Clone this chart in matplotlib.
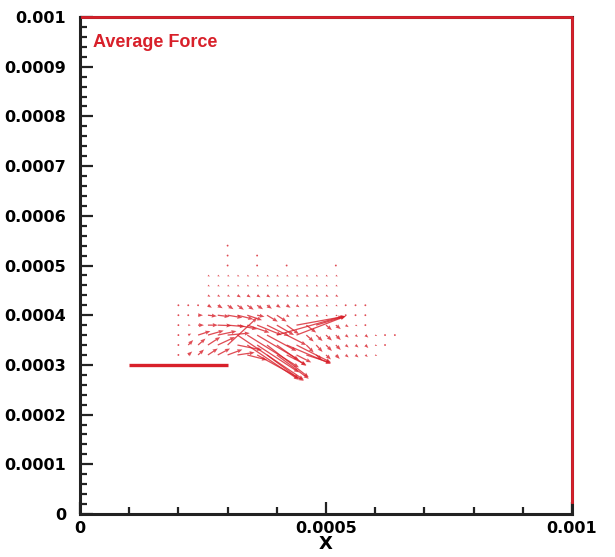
import numpy as np
import matplotlib
matplotlib.use('Agg')
from matplotlib import pyplot as plt
from matplotlib.ticker import MultipleLocator, FixedLocator

n = None
red = '#d8202a'

# grid of the vector field
x_cols = [0.0002, 0.00022, 0.00024, 0.00026, 0.00028, 0.0003, 0.00032, 0.00034,
          0.00036, 0.00038, 0.0004, 0.00042, 0.00044, 0.00046, 0.00048, 0.0005,
          0.00052, 0.00054, 0.00056, 0.00058, 0.0006, 0.00062, 0.00064]
y_rows = [0.00054, 0.00052, 0.0005, 0.00048, 0.00046, 0.00044,
          0.00042, 0.0004, 0.00038, 0.00036, 0.00034, 0.00032]

# force components, units of 1e-5 (None = no point)
u_rows = [
    [n,n,n,n,n,.3,n,n,n,n,n,n,n,n,n,n,n,n,n,n,n,n,n],
    [n,n,n,n,n,.3,n,n,.3,n,n,n,n,n,n,n,n,n,n,n,n,n,n],
    [n,n,n,n,n,.3,n,n,.3,n,n,.3,n,n,n,n,.3,n,n,n,n,n,n],
    [n,n,n,.4,.4,.4,.4,.4,.4,.4,.4,.4,.4,.4,.4,.4,.4,n,n,n,n,n,n],
    [n,n,n,.4,.4,.4,.4,.4,.4,.4,.4,.4,.4,.4,.4,.4,.4,n,n,n,n,n,n],
    [n,n,n,.5,.5,.5,.7,.7,.7,.7,.5,.5,.5,.5,.5,.5,.5,n,n,n,n,n,n],
    [.3,.3,.4,.8,1.0,1.2,1.3,1.3,1.2,1.0,.8,.8,.6,.5,.5,.4,.4,.3,.3,.3,n,n,n],
    [.3,.4,1.0,1.8,2.4,3.0,3.2,3.0,1.5,2.2,2.0,.6,.5,.5,.5,.4,.4,.3,.3,.3,n,n,n],
    [.3,.5,1.2,2.0,2.8,3.5,4.0,4.5,5.0,4.5,3.5,2.5,10.0,2.0,6.0,1.2,1.0,.6,.4,.3,n,n,n],
    [.3,.6,2.5,3.2,3.8,4.5,13.5,10.5,8.5,6.0,13.5,4.0,10.0,1.5,1.3,1.2,1.0,.6,.5,.6,.4,.3,.3],
    [.3,1.0,1.5,2.5,3.5,6.0,5.0,10.5,8.5,8.5,6.0,9.0,7.0,1.5,1.3,1.2,1.0,.6,.6,.6,.4,.3,n],
    [.3,.8,1.2,2.0,2.5,3.0,3.5,4.0,9.5,6.5,6.5,4.0,3.0,5.0,1.2,1.0,.8,.6,.6,.5,.4,n,n],
]
v_rows = [
    [n,n,n,n,n,0,n,n,n,n,n,n,n,n,n,n,n,n,n,n,n,n,n],
    [n,n,n,n,n,0,n,n,0,n,n,n,n,n,n,n,n,n,n,n,n,n,n],
    [n,n,n,n,n,0,n,n,0,n,n,0,n,n,n,n,0,n,n,n,n,n,n],
    [n,n,n,-.2,-.2,-.2,-.2,-.2,-.2,-.2,-.2,-.2,-.2,-.2,-.2,-.2,-.2,n,n,n,n,n,n],
    [n,n,n,-.2,-.2,-.2,-.2,-.2,-.2,-.2,-.2,-.2,-.2,-.2,-.2,-.2,-.2,n,n,n,n,n,n],
    [n,n,n,-.3,-.3,-.3,-.4,-.4,-.4,-.4,-.3,-.3,-.3,-.3,-.3,-.3,-.3,n,n,n,n,n,n],
    [0,0,-.1,-.5,-.6,-.8,-.9,-.9,-.8,-.7,-.5,-.5,-.4,-.3,-.3,-.2,-.2,-.1,-.1,-.1,n,n,n],
    [0,0,0,-.2,-.3,-.5,-.8,-1.0,-.3,-1.3,-1.3,-.4,-.3,-.3,-.3,-.2,-.2,-.1,-.1,0,n,n,n],
    [0,0,0,0,-.1,-.3,-.8,-1.5,-2.0,-2.2,-2.0,-1.8,1.8,-1.5,1.8,-1.0,-.8,-.4,-.2,-.1,n,n,n],
    [0,.3,.8,.9,.8,.4,-9.0,-6.5,-5.0,-3.2,3.8,-2.0,3.8,-1.3,-1.2,-1.1,-1.0,-.5,-.4,-.5,-.2,-.1,-.1],
    [0,1.0,1.3,1.6,1.6,5.5,-1.0,-7.0,-5.5,-6.5,-4.2,-3.8,-3.5,-1.5,-1.4,-1.2,-1.0,-.5,-.5,-.6,-.2,-.1,n],
    [0,.7,1.1,1.3,1.3,1.1,.5,-1.0,-5.2,-4.8,-4.8,-2.0,-1.5,-1.6,-1.0,-.9,-.8,-.5,-.5,-.4,-.2,n,n],
]

# plate and domain boundary
plate_x = [0.0001, 0.0003]
plate_y = [0.0003, 0.0003]
domain_x = [0.000005, 0.001, 0.001]
domain_y = [0.001, 0.001, 0.000025]

x_ticks = [0, 0.0005, 0.001]
x_labels = ['0', '0.0005', '0.001']
y_ticks = [0, 0.0001, 0.0002, 0.0003, 0.0004, 0.0005, 0.0006, 0.0007, 0.0008, 0.0009, 0.001]
y_labels = ['0', '0.0001', '0.0002', '0.0003', '0.0004', '0.0005',
            '0.0006', '0.0007', '0.0008', '0.0009', '0.001']

U = np.array(u_rows, dtype=float) * 1e-5
V = np.array(v_rows, dtype=float) * 1e-5
X, Y = np.meshgrid(x_cols, y_rows)
ok = ~np.isnan(U)

fig = plt.figure(figsize=(6.15, 5.57), dpi=100)
ax = fig.add_axes([80/615, 43/557, 492/615, 497/557])

ax.quiver(X[ok], Y[ok], U[ok], V[ok], angles='xy', scale_units='xy', scale=1,
          color=red, alpha=0.8, width=0.0026, headwidth=3.2, headlength=4,
          headaxislength=3.6, minlength=1.6, zorder=3)
ax.plot(plate_x, plate_y, color=red, lw=2.4, solid_capstyle='butt', zorder=4)
ax.plot(domain_x, domain_y, color=red, lw=2.0, clip_on=False, zorder=5)

ax.set_xlim(0, 0.001)
ax.set_ylim(0, 0.001)
ax.xaxis.set_major_locator(FixedLocator(x_ticks))
ax.yaxis.set_major_locator(FixedLocator(y_ticks))
ax.set_xticklabels(x_labels)
ax.set_yticklabels(y_labels)
ax.xaxis.set_minor_locator(MultipleLocator(0.0001))
ax.yaxis.set_minor_locator(MultipleLocator(0.00002))
ax.tick_params(which='both', direction='in', top=False, right=False, width=1.6, color='#222222')
ax.tick_params(which='major', length=9)
ax.tick_params(which='minor', length=5)
ax.tick_params(axis='y', pad=10)
ax.tick_params(axis='x', pad=5)
for lab in ax.get_xticklabels() + ax.get_yticklabels():
    lab.set_fontfamily('DejaVu Sans')
    lab.set_fontweight('bold')
    lab.set_fontsize(11.5)

for s in ['left', 'bottom', 'top', 'right']:
    ax.spines[s].set_linewidth(2.2)
    ax.spines[s].set_color('#222222')

ax.set_xlabel('X', fontsize=13, fontweight='bold', labelpad=-1)
ax.text(0.0000255, 0.000948, 'Average Force', color=red, fontsize=13,
        fontfamily='Liberation Sans', fontweight='bold', va='center', ha='left')

fig.savefig('out.png', dpi=100)
